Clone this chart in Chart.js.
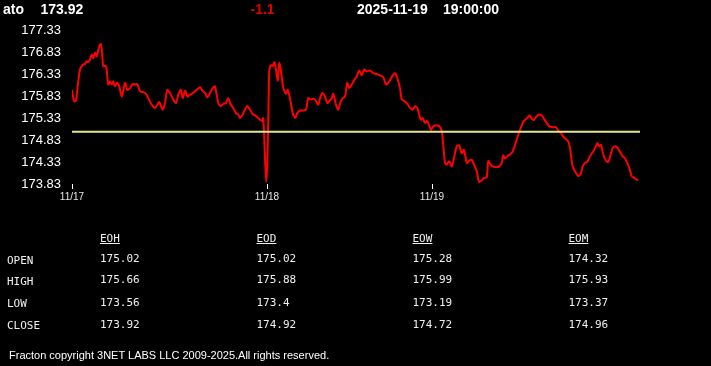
<!DOCTYPE html>
<html>
<head>
<meta charset="utf-8">
<script src="https://cdn.jsdelivr.net/npm/chart.js@4/dist/chart.umd.min.js"></script>
<style>
  html, body { margin:0; padding:0; background:#000; width:711px; height:366px; overflow:hidden; }
  .t { position:absolute; white-space:nowrap; }
  .hdr { font: bold 14px "Liberation Sans", Arial, sans-serif; line-height:16px; color:#fff; top:1px; }
  .tb { font: 11px "DejaVu Sans Mono", monospace; line-height:13px; color:#f0f0f0; }
  .u { text-decoration: underline; }
  .foot { font: 11px "Liberation Sans", Arial, sans-serif; line-height:13px; color:#fff; left:9px; top:349px; }
  #wrap { position:absolute; left:0; top:0; width:711px; height:366px; }
</style>
</head>
<body>
<div id="wrap"><canvas id="c" width="711" height="366"></canvas></div>
<div id="txt"></div>
<script>
// ---- header ----
const symbol = 'ato';
const lastPrice = '173.92';
const change = '-1.1';
const dateStr = '2025-11-19';
const timeStr = '19:00:00';

// ---- axis ----
const yTicks = [173.83, 174.33, 174.83, 175.33, 175.83, 176.33, 176.83, 177.33];
const dayTickPos = [0, 78, 144];
const dayLabels = ['11/17', '11/18', '11/19'];
const xMax = 227.2;

// ---- reference line (open) ----
const refLevel = 175.02;

// ---- price series (bar index, price) ----
const barIndex = [0,0.8,1.6,2.5,3.2,4.3,5.2,5.9,6.5,7.2,7.9,8.5,9.2,9.9,10.9,11.5,12,12.5,13.6,14.5,15.2,15.9,16.5,17.2,18.1,18.9,19.9,20.5,21.2,22.1,23.2,24.3,25.2,26.1,27.2,28.3,29.6,30.5,31.9,33.2,34.1,34.9,36.3,37.2,38.1,39.2,40.5,41.6,42.5,43.5,44.3,45.2,46.1,47.2,48.5,49.9,51.2,52.3,53.2,54.1,55.2,56.3,57.2,
58.5,59.5,60.5,61.6,62.5,63.5,64.5,65.6,66.5,67.2,68.1,69.2,70.1,71.2,72.3,73.2,74.1,75.2,76.1,76.5,76.9,77.3,77.7,78.1,78.5,78.9,79.5,80.3,80.9,81.6,82.3,82.9,83.6,84.5,85.6,86.3,87.2,88.3,89.3,90.1,91.2,92.5,93.6,94.5,95.5,96.5,97.6,98.5,99.2,100.1,101.2,102.1,102.9,103.9,104.5,105.6,106.5,107.5,108.3,109.2,110.1,110.9,111.9,112.8,
113.9,114.9,115.9,116.8,117.9,119.2,120.5,121.9,123.2,124.5,125.6,126.9,128.3,129.2,130.1,131.2,131.9,132.8,133.9,135.2,136.3,137.2,138.1,138.9,139.5,140.3,141.2,142.1,142.9,143.6,144.5,145.6,146.9,147.9,148.5,149.2,149.9,150.9,151.9,152.8,153.9,154.9,155.9,156.8,157.9,158.9,159.9,160.8,161.9,162.8,163.9,164.8,165.9,166.5,167.5,
168.3,169.6,170.9,171.9,172.5,173.2,174.1,175.2,176.3,177.2,178.1,179.2,180.3,181.2,182.1,183.2,183.9,184.8,185.9,186.9,187.9,188.8,189.9,190.9,192.3,193.6,194.5,195.5,196.5,197.6,198.5,199.2,199.9,200.5,201.6,202.5,203.5,204.3,205.2,206.1,207.2,208.5,209.6,210.1,210.9,211.6,212.5,213.6,214.5,215.5,216.3,217.2,218.1,219.2,220.3,221.2,222.1,222.9,223.9,224.8,225.9,226.5];
const prices = [175.97,175.71,175.72,176.16,176.43,176.54,176.56,176.62,176.60,176.66,176.77,176.69,176.81,176.73,176.96,177.01,176.85,176.51,176.51,176.09,176.16,176.09,176.16,176.05,176.13,176.05,175.82,175.94,176.13,175.97,176.01,176.10,176.09,176.10,175.94,175.92,175.88,175.78,175.63,175.56,175.63,175.69,175.52,175.67,175.97,175.90,175.75,175.67,175.86,175.97,175.78,175.95,175.82,175.86,175.90,175.97,176.03,175.94,175.90,175.80,175.90,176.01,176.05,
175.67,175.60,175.65,175.67,175.78,175.63,175.56,175.44,175.41,175.33,175.39,175.52,175.60,175.52,175.42,175.39,175.35,175.29,175.26,175.33,174.88,174.27,173.88,174.27,175.26,176.39,176.53,176.51,176.60,176.43,176.18,176.58,176.39,176.01,175.88,175.97,175.78,175.44,175.33,175.44,175.50,175.50,175.52,175.78,175.75,175.77,175.72,175.63,175.77,175.90,175.82,175.67,175.71,175.78,175.88,175.63,175.52,175.71,175.78,175.82,176.13,176.01,176.09,176.18,
176.28,176.41,176.30,176.43,176.39,176.41,176.35,176.33,176.30,176.26,176.09,176.16,176.30,176.35,176.24,176.01,175.75,175.72,175.67,175.56,175.52,175.60,175.56,175.41,175.29,175.33,175.22,175.26,175.16,175.06,175.14,175.16,175.15,175.03,174.72,174.31,174.27,174.35,174.23,174.42,174.69,174.71,174.53,174.61,174.31,174.36,174.38,174.27,174.12,173.88,173.91,173.97,173.98,174.35,174.27,
174.23,174.21,174.23,174.31,174.48,174.41,174.46,174.50,174.57,174.72,174.88,175.06,175.22,175.29,175.33,175.39,175.31,175.29,175.37,175.41,175.39,175.31,175.22,175.14,175.12,175.12,175.04,174.99,174.91,174.85,174.80,174.65,174.35,174.19,174.08,174.01,174.06,174.23,174.31,174.33,174.46,174.57,174.69,174.76,174.69,174.72,174.50,174.36,174.33,174.50,174.65,174.69,174.66,174.56,174.46,174.41,174.31,174.19,174.01,173.97,173.93,173.92];

// ---- summary table ----
const colHeads = ['EOH', 'EOD', 'EOW', 'EOM'];
const rowHeads = ['OPEN', 'HIGH', 'LOW', 'CLOSE'];
const openVals  = ['175.02', '175.02', '175.28', '174.32'];
const highVals  = ['175.66', '175.88', '175.99', '175.93'];
const lowVals   = ['173.56', '173.4',  '173.19', '173.37'];
const closeVals = ['173.92', '174.92', '174.72', '174.96'];
const footer = 'Fracton copyright 3NET LABS LLC 2009-2025.All rights reserved.';

// ---- build text ----
const txt = document.getElementById('txt');
function add(cls, text, left, top, color) {
  const d = document.createElement('div');
  d.className = 't ' + cls;
  d.textContent = text;
  d.style.left = left + 'px';
  if (top !== null) d.style.top = top + 'px';
  if (color) d.style.color = color;
  txt.appendChild(d);
}
add('hdr', symbol, 3, null);
add('hdr', lastPrice, 40.5, null);
add('hdr', change, 250.5, null, '#e00000');
add('hdr', dateStr, 357, null);
add('hdr', timeStr, 443, null);

const colX = [100, 256.5, 412.5, 568.5];
colHeads.forEach((h, i) => add('tb u', h, colX[i], 232));
const labelTops = [253.7, 274.7, 296.7, 318.7];
const valTops = [251.7, 273.2, 295.7, 318.2];
const rows = [openVals, highVals, lowVals, closeVals];
rowHeads.forEach((r, i) => {
  add('tb', r, 7, labelTops[i]);
  rows[i].forEach((v, j) => add('tb', v, colX[j], valTops[i]));
});
add('foot', footer, 9, 349);

// ---- chart ----
Chart.defaults.font.family = '"Liberation Sans", Arial, sans-serif';
const pts = barIndex.map((x, i) => ({x: x, y: prices[i]}));

new Chart(document.getElementById('c'), {
  type: 'line',
  data: {
    datasets: [
      { data: [{x: 0, y: refLevel}, {x: xMax, y: refLevel}], borderColor: 'rgb(225,232,140)', borderWidth: 2, pointRadius: 0, tension: 0 },
      { data: pts, borderColor: '#ff0000', borderWidth: 2, pointRadius: 0, tension: 0.25 }
    ]
  },
  options: {
    responsive: false,
    animation: false,
    layout: { padding: { left: 0, top: 30, right: 71, bottom: 162 } },
    plugins: { legend: { display: false }, tooltip: { enabled: false } },
    scales: {
      x: {
        type: 'linear', min: 0, max: xMax,
        afterBuildTicks: s => { s.ticks = dayTickPos.map(v => ({value: v})); },
        afterFit: s => { s.height = 20; },
        ticks: {
          color: '#e6e6e6', font: { size: 10 }, padding: 2, maxRotation: 0, autoSkip: false,
          callback: v => { const k = dayTickPos.indexOf(v); return k >= 0 ? dayLabels[k] : ''; }
        },
        grid: { display: true, drawOnChartArea: false, drawTicks: true, tickLength: 5, color: '#ffffff', lineWidth: 1 },
        border: { display: false }
      },
      y: {
        type: 'linear', min: yTicks[0], max: yTicks[yTicks.length - 1],
        afterBuildTicks: s => { s.ticks = yTicks.map(v => ({value: v})); },
        afterFit: s => { s.width = 72; },
        ticks: { color: '#ffffff', font: { size: 13 }, padding: 11, autoSkip: false, callback: v => v.toFixed(2) },
        grid: { display: false, drawTicks: false },
        border: { display: false }
      }
    }
  }
});
</script>
</body>
</html>
